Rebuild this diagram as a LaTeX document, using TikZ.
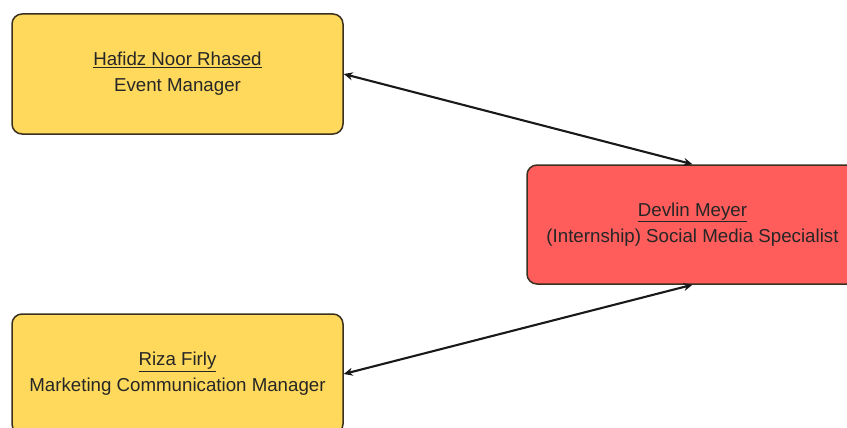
\documentclass[tikz,border=0pt]{standalone}
\usepackage{fontspec}
\setmainfont{Liberation Sans}
\usepackage{tikz}
\usetikzlibrary{arrows.meta}
\usetikzlibrary{positioning}
\tikzset{>={Stealth[length=9pt,width=8pt]}}

\definecolor{boxyellow}{HTML}{FFD95C}
\definecolor{boxred}{HTML}{FF5C5C}
\definecolor{boxline}{HTML}{3A3020}

\tikzset{
  person/.style={rectangle, rounded corners=10pt, draw=boxline, line width=1.5pt,
    minimum width=331pt, minimum height=120pt, align=center,
    font=\fontsize{18.7pt}{26pt}\selectfont, text=black!85},
  link/.style={<->, line width=2.1pt, black!90}
}

\begin{document}
\begin{tikzpicture}[x=1pt, y=-1pt]
  % --- Canvas ---
  \useasboundingbox (0,0) rectangle (847,428);
  \clip (0,0) rectangle (847,428);

  % --- 1. Managers (left column) ---
  \node[person, fill=boxyellow] (hafidz) at (177.5, 74) {\underline{Hafidz Noor Rhased}\\Event Manager};
  \node[person, fill=boxyellow] (riza) at (177.5, 374) {\underline{Riza Firly}\\Marketing Communication Manager};

  % --- 2. Intern (right) ---
  \node[person, fill=boxred, minimum height=119pt] (devlin) at (692.5, 224.5) {\underline{Devlin Meyer}\\(Internship) Social Media Specialist};

  % --- 3. Links ---
  \draw[link] (hafidz.east) -- (devlin.north);
  \draw[link] (riza.east) -- (devlin.south);
\end{tikzpicture}
\end{document}
